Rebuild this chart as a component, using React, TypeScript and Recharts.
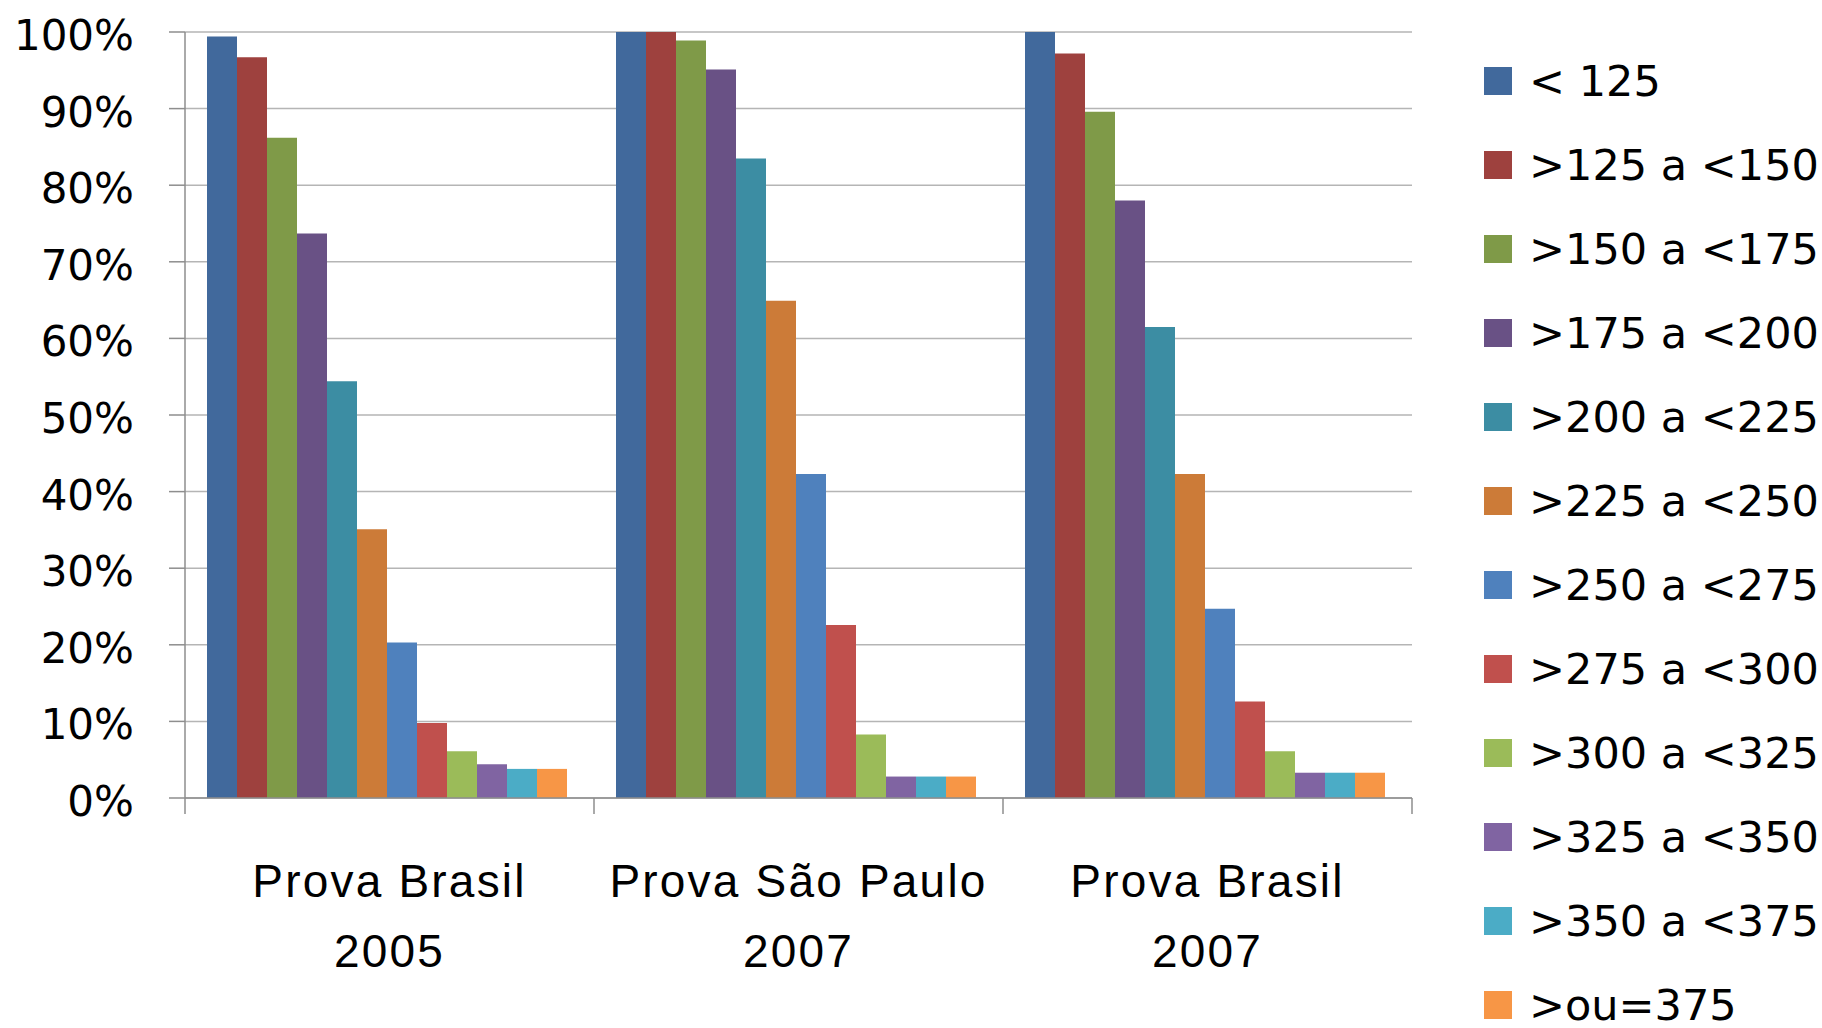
import { BarChart, Bar, XAxis, YAxis, CartesianGrid } from "recharts";

const categories = ["Prova Brasil 2005", "Prova São Paulo 2007", "Prova Brasil 2007"];
const categoryLines = [
  ["Prova Brasil", "2005"],
  ["Prova São Paulo", "2007"],
  ["Prova Brasil", "2007"],
];

const ranges = [
  "< 125",
  ">125 a <150",
  ">150 a <175",
  ">175 a <200",
  ">200 a <225",
  ">225 a <250",
  ">250 a <275",
  ">275 a <300",
  ">300 a <325",
  ">325 a <350",
  ">350 a <375",
  ">ou=375",
];

const colors = [
  "#41699C",
  "#9E413E",
  "#7F9A48",
  "#695185",
  "#3C8DA3",
  "#CC7B38",
  "#4F81BD",
  "#C0504D",
  "#9BBB59",
  "#8064A2",
  "#4BACC6",
  "#F79646",
];

// percentages per range, one list per exam
const provaBrasil2005 = [99.4, 96.7, 86.2, 73.7, 54.4, 35.1, 20.3, 9.8, 6.1, 4.4, 3.8, 3.8];
const provaSaoPaulo2007 = [100, 100, 98.9, 95.1, 83.5, 64.9, 42.3, 22.6, 8.3, 2.8, 2.8, 2.8];
const provaBrasil2007 = [100, 97.2, 89.6, 78.0, 61.5, 42.3, 24.7, 12.6, 6.1, 3.3, 3.3, 3.3];

const yTicks = [0, 10, 20, 30, 40, 50, 60, 70, 80, 90, 100];

const allValues = [provaBrasil2005, provaSaoPaulo2007, provaBrasil2007];
const data = categories.map((name, i) => {
  const row: Record<string, any> = { name };
  ranges.forEach((_, j) => {
    row["s" + j] = allValues[i][j];
  });
  return row;
});

const axisColor = "#8E8E8E";
const gridColor = "#B5B5B5";

const CategoryTick = (props: any) => {
  const { x, y, payload } = props;
  const idx = categories.indexOf(payload.value);
  const half = payload.offset || 204.5;
  const lines = categoryLines[idx] || [payload.value];
  return (
    <g>
      {idx === 0 && (
        <line x1={x - half} x2={x - half} y1={y} y2={y + 16} stroke={axisColor} strokeWidth={1.5} />
      )}
      <line x1={x + half} x2={x + half} y1={y} y2={y + 16} stroke={axisColor} strokeWidth={1.5} />
      <text
        x={x}
        y={y + 99}
        textAnchor="middle"
        fontFamily="Liberation Sans"
        fontSize={46}
        letterSpacing={2.2}
        fill="#000"
      >
        {lines[0]}
      </text>
      <text
        x={x}
        y={y + 169}
        textAnchor="middle"
        fontFamily="Liberation Sans"
        fontSize={46}
        letterSpacing={2.2}
        fill="#000"
      >
        {lines[1]}
      </text>
    </g>
  );
};

const PercentTick = (props: any) => {
  const { x, y, payload } = props;
  return (
    <text x={x} y={y + 18} textAnchor="end" fontFamily="DejaVu Sans" fontSize={42} fill="#000">
      {`${payload.value}%`}
    </text>
  );
};

const App = () => {
  return (
    <div
      style={{
        position: "absolute",
        left: 0,
        top: 0,
        width: 1822,
        height: 1028,
        background: "#FFF",
        overflow: "hidden",
        fontFamily: "DejaVu Sans",
      }}
    >
      <BarChart
        width={1822}
        height={1028}
        data={data}
        margin={{ top: 32, right: 410, bottom: 0, left: 0 }}
        barGap={0}
        barCategoryGap={22}
      >
        <CartesianGrid vertical={false} stroke={gridColor} strokeWidth={1.5} />
        <XAxis
          dataKey="name"
          height={230}
          interval={0}
          tickSize={0}
          tickMargin={0}
          tickLine={false}
          axisLine={{ stroke: axisColor, strokeWidth: 1.5 }}
          tick={<CategoryTick />}
        />
        <YAxis
          width={185}
          domain={[0, 100]}
          ticks={yTicks}
          interval={0}
          tickSize={16}
          tickMargin={35}
          tickLine={{ stroke: axisColor, strokeWidth: 1.5 }}
          axisLine={{ stroke: axisColor, strokeWidth: 1.5 }}
          tick={<PercentTick />}
        />
        {ranges.map((r, j) => (
          <Bar key={r} dataKey={"s" + j} name={r} fill={colors[j]} isAnimationActive={false} />
        ))}
      </BarChart>
      <div style={{ position: "absolute", left: 1484, top: 39 }}>
        {ranges.map((r, j) => (
          <div key={r} style={{ height: 84, display: "flex", alignItems: "center" }}>
            <div style={{ width: 28, height: 28, background: colors[j], marginRight: 17 }} />
            <span style={{ fontSize: 43, color: "#000", whiteSpace: "nowrap" }}>{r}</span>
          </div>
        ))}
      </div>
    </div>
  );
};

export default App;
